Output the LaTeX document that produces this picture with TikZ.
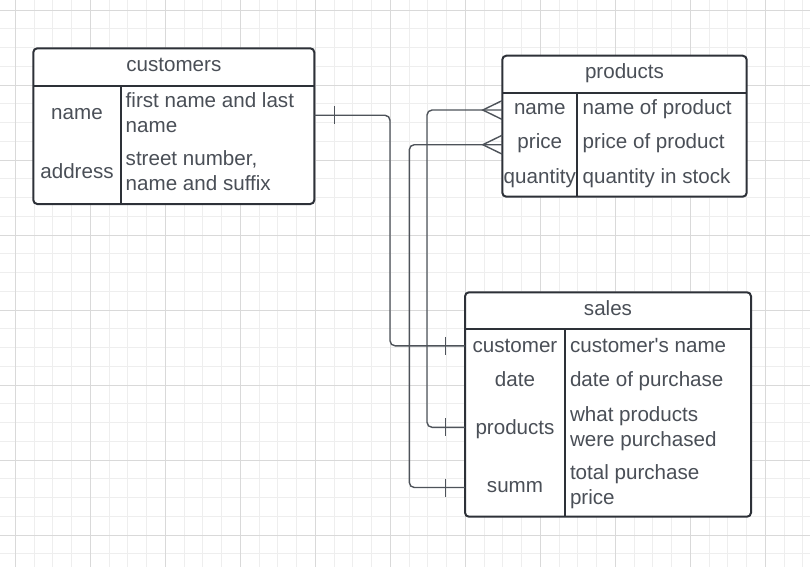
\documentclass[tikz,border=0pt]{standalone}
\usepackage{fontspec}
\setmainfont{Liberation Sans}
\definecolor{txt}{RGB}{74,79,87}
\definecolor{bord}{RGB}{45,49,56}
\definecolor{conncol}{RGB}{78,83,90}
\definecolor{gmin}{RGB}{238,238,238}
\definecolor{gmaj}{RGB}{217,217,217}
\newcommand{\sst}{\rule[-7.5bp]{0pt}{23bp}}
\begin{document}
\begin{tikzpicture}[x=1bp,y=-1bp,
  every node/.style={font=\fontsize{20.6bp}{25bp}\selectfont, text=txt, inner sep=0pt, outer sep=0pt},
  tbl/.style={draw=bord, line width=2bp, rounded corners=4bp, fill=white},
  boxpart/.style={anchor=north west},
  inline/.style={draw=bord, line width=2bp},
  cn/.style={draw=conncol, line width=1.4bp, rounded corners=5bp},
  tick/.style={draw=conncol, line width=1.4bp},
  minorgrid/.style={draw=gmin, line width=0.9bp},
  majorgrid/.style={draw=gmaj, line width=0.9bp},
  valtext/.style={anchor=west, align=left},
  lower/.style={yshift=-2.8bp}]
\fill[white] (0,0) rectangle (810,567);
\useasboundingbox (0,0) rectangle (810,567);
% grid
\foreach \i in {0,...,43} \draw[minorgrid] ({-3.45+18.75*\i},0) -- ({-3.45+18.75*\i},567);
\foreach \i in {0,...,30} \draw[minorgrid] (0,{-8.75+18.75*\i}) -- (810,{-8.75+18.75*\i});
\foreach \i in {0,...,10} \draw[majorgrid] ({15.3+75*\i},0) -- ({15.3+75*\i},567);
\foreach \i in {0,...,7} \draw[majorgrid] (0,{10+75*\i}) -- (810,{10+75*\i});

% ---------- customers ----------
\node[tbl, boxpart, minimum width=281bp, minimum height=155.7bp] (cust) at (33.3,48.3) {};
\node[boxpart, minimum width=281bp, minimum height=37.4bp] (custh) at (cust.north west) {};
\node[boxpart, minimum width=281bp, minimum height=59.15bp] (custr1) at (custh.south west) {};
\node[boxpart, minimum width=281bp, minimum height=59.15bp] (custr2) at (custr1.south west) {};
\draw[inline] (custh.south west) -- (custh.south east);
\draw[inline] ([xshift=87.4bp]custh.south west) -- ([xshift=87.4bp]cust.south west);
\node[yshift=-1bp] (custt) at (custh.center) {\sst customers};
\node (custk1) at ([xshift=43.7bp]custr1.west) {\sst name};
\node (custk2) at ([xshift=43.7bp]custr2.west) {\sst address};
\node[valtext, yshift=-1bp] (custv1) at ([xshift=92.4bp]custr1.west) {\sst first name and last\\\sst name};
\node[valtext] (custv2) at ([xshift=92.4bp]custr2.west) {\sst street number,\\\sst name and suffix};

% ---------- products ----------
\node[tbl, boxpart, minimum width=244.4bp, minimum height=141bp] (prod) at (502.3,55.7) {};
\node[boxpart, minimum width=244.4bp, minimum height=37bp] (prodh) at (prod.north west) {};
\node[boxpart, minimum width=244.4bp, minimum height=34.67bp] (prodr1) at (prodh.south west) {};
\node[boxpart, minimum width=244.4bp, minimum height=34.67bp] (prodr2) at (prodr1.south west) {};
\node[boxpart, minimum width=244.4bp, minimum height=34.67bp] (prodr3) at (prodr2.south west) {};
\draw[inline] (prodh.south west) -- (prodh.south east);
\draw[inline] ([xshift=75bp]prodh.south west) -- ([xshift=75bp]prod.south west);
\node (prodt) at (prodh.center) {\sst products};
\node (prodk1) at ([xshift=37.5bp]prodr1.west) {\sst name};
\node (prodk2) at ([xshift=37.5bp]prodr2.west) {\sst price};
\node (prodk3) at ([xshift=37.5bp]prodr3.west) {\sst quantity};
\node[valtext] (prodv1) at ([xshift=80.4bp]prodr1.west) {\sst name of product};
\node[valtext] (prodv2) at ([xshift=80.4bp]prodr2.west) {\sst price of product};
\node[valtext] (prodv3) at ([xshift=80.4bp]prodr3.west) {\sst quantity in stock};

% ---------- sales ----------
\node[tbl, boxpart, minimum width=286bp, minimum height=224.4bp] (sal) at (465,292.3) {};
\node[boxpart, minimum width=286bp, minimum height=37bp] (salh) at (sal.north west) {};
\node[boxpart, minimum width=286bp, minimum height=33bp] (salr1) at (salh.south west) {};
\node[boxpart, minimum width=286bp, minimum height=34bp] (salr2) at (salr1.south west) {};
\node[boxpart, minimum width=286bp, minimum height=62bp] (salr3) at (salr2.south west) {};
\node[boxpart, minimum width=286bp, minimum height=58.4bp] (salr4) at (salr3.south west) {};
\draw[inline] (salh.south west) -- (salh.south east);
\draw[inline] ([xshift=100bp]salh.south west) -- ([xshift=100bp]sal.south west);
\node[yshift=-1bp] (salt) at (salh.center) {\sst sales};
\node[lower] (salk1) at ([xshift=50bp]salr1.west) {\sst customer};
\node[lower] (salk2) at ([xshift=50bp]salr2.west) {\sst date};
\node[lower] (salk3) at ([xshift=50bp]salr3.west) {\sst products};
\node[yshift=-0.8bp] (salk4) at ([xshift=50bp]salr4.west) {\sst summ};
\node[valtext, lower] (salv1) at ([xshift=105bp]salr1.west) {\sst customer\textquotesingle s name};
\node[valtext, lower] (salv2) at ([xshift=105bp]salr2.west) {\sst date of purchase};
\node[valtext, yshift=-2.3bp] (salv3) at ([xshift=105bp]salr3.west) {\sst what products\\\sst were purchased};
\node[valtext] (salv4) at ([xshift=105bp]salr4.west) {\sst total purchase\\\sst price};

% ---------- connectors ----------
\coordinate (j1) at (390,230);
\coordinate (j2) at (427,250);
\coordinate (j3) at (409.3,300);
\draw[cn] (custr1.east) -| (j1) |- (salr1.west);
\draw[cn] (prodr1.west) -| (j2) |- (salr3.west);
\draw[cn] (prodr2.west) -| (j3) |- (salr4.west);
% one-marks
\draw[tick] ([xshift=20bp,yshift=9bp]custr1.east) -- ([xshift=20bp,yshift=-9bp]custr1.east);
\draw[tick] ([xshift=-19.3bp,yshift=9bp]salr1.west) -- ([xshift=-19.3bp,yshift=-9bp]salr1.west);
\draw[tick] ([xshift=-19.3bp,yshift=9bp]salr3.west) -- ([xshift=-19.3bp,yshift=-9bp]salr3.west);
\draw[tick] ([xshift=-19.3bp,yshift=9bp]salr4.west) -- ([xshift=-19.3bp,yshift=-9bp]salr4.west);
% crow's feet
\draw[tick] ([yshift=9.5bp]prodr1.west) -- ([xshift=-19.5bp]prodr1.west) -- ([yshift=-9.5bp]prodr1.west);
\draw[tick] ([yshift=9.5bp]prodr2.west) -- ([xshift=-19.5bp]prodr2.west) -- ([yshift=-9.5bp]prodr2.west);
\end{tikzpicture}
\end{document}
